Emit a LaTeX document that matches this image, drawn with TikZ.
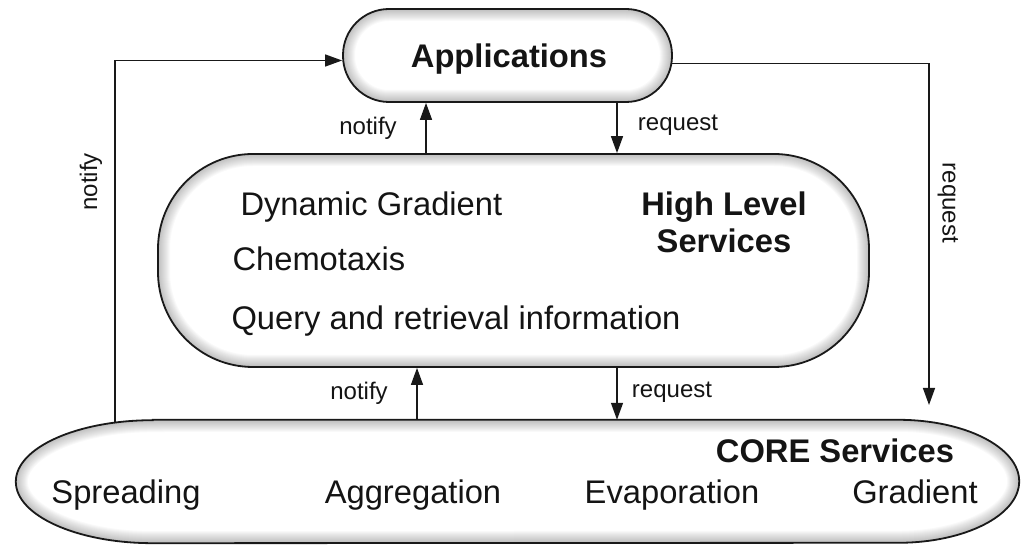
\documentclass[tikz,border=0pt]{standalone}
\usepackage{fontspec}
\setmainfont{Liberation Sans}
\usetikzlibrary{arrows.meta,calc}
\begin{document}
\begin{tikzpicture}[x=1pt,y=1pt,
  outline/.style={draw=black!90, line width=1.8pt},
  link/.style={draw=black!90, line width=1.4pt, -{Triangle[length=17pt,width=12pt]}},
  big/.style={font=\fontsize{32.7}{37}\selectfont, text=black!92},
  bigb/.style={font=\fontsize{32.7}{37}\selectfont\bfseries, text=black!92},
  small/.style={font=\fontsize{24}{28}\selectfont, text=black!92},
  glow/.style={path picture={
    \foreach \w in {2,4,...,24}{
      \draw[black, draw opacity=0.022, line width=\w pt, rounded corners=#1]
        (path picture bounding box.south west) rectangle (path picture bounding box.north east);}}},
  frame/.style={draw=none, inner sep=0pt}]
\useasboundingbox (0,0) rectangle (1021,545);

% main blocks
\node[outline, glow=46pt, rounded corners=46pt, inner sep=0pt,
      minimum width=329pt, minimum height=93pt] (app) at (507.5,489.5) {};
\node[outline, glow=95pt, rounded corners=95pt, inner sep=0pt,
      minimum width=711pt, minimum height=213pt] (hls) at (513.5,284.5) {};
\node[frame, minimum width=1003pt, minimum height=123pt] (core) at (517.5,63.5) {};

% CORE block: straight top and bottom, elliptical ends
\def\corepath{($(core.north west)+(137,0)$) -- ($(core.north east)+(-121,0)$)
  arc[start angle=90,end angle=-90,x radius=121pt,y radius=61.5pt]
  -- ($(core.south west)+(137,0)$)
  arc[start angle=270,end angle=90,x radius=137pt,y radius=61.5pt] -- cycle}
\begin{scope}
  \clip \corepath;
  \foreach \w in {2,4,...,24}{\draw[black, draw opacity=0.022, line width=\w pt] \corepath;}
\end{scope}
\draw[outline] \corepath;

% texts
\node[bigb, anchor=base] (apptxt) at (509,477) {Applications};
\node[big, anchor=base west] (dyn) at (237,329) {Dynamic Gradient};
\node[big, anchor=base west] (chem) at (229,274) {Chemotaxis};
\node[big, anchor=base west] (query) at (228,215) {Query and retrieval information};
\node[bigb, anchor=base] (hlsa) at (724,329) {High Level};
\node[bigb, anchor=base] (hlsb) at (724,292) {Services};
\node[bigb, anchor=base] (coretxt) at (835,82) {CORE Services};
\node[big, anchor=base] (spr) at (126,41) {Spreading};
\node[big, anchor=base] (agg) at (413,41) {Aggregation};
\node[big, anchor=base] (eva) at (672,41) {Evaporation};
\node[big, anchor=base] (gra) at (915,41) {Gradient};

% connector columns and free ends
\coordinate (colA) at (426,0);
\coordinate (colB) at (617,0);
\coordinate (colC) at (417,0);
\coordinate (lnstart) at (115,123);
\coordinate (rqend) at (929,140);

% connectors
\draw[link] (hls.north -| colA) -- (app.south -| colA);
\draw[link] (app.south -| colB) -- (hls.north -| colB);
\draw[link] (core.north -| colC) -- (hls.south -| colC);
\draw[link] (hls.south -| colB) -- (core.north -| colB);
\draw[link] (lnstart) |- ($(app.west)+(0,-5)$);
\draw[link] ($(app.east)+(-1,-8)$) -| (rqend);

% connector labels
\node[small, anchor=base] (l1) at (368,410) {notify};
\node[small, anchor=base] (l2) at (678,414) {request};
\node[small, rotate=90] (l3) at (91,363) {notify};
\node[small, rotate=-90] (l4) at (948,342) {request};
\node[small, anchor=base] (l5) at (359,145) {notify};
\node[small, anchor=base] (l6) at (672,147) {request};
\end{tikzpicture}
\end{document}
